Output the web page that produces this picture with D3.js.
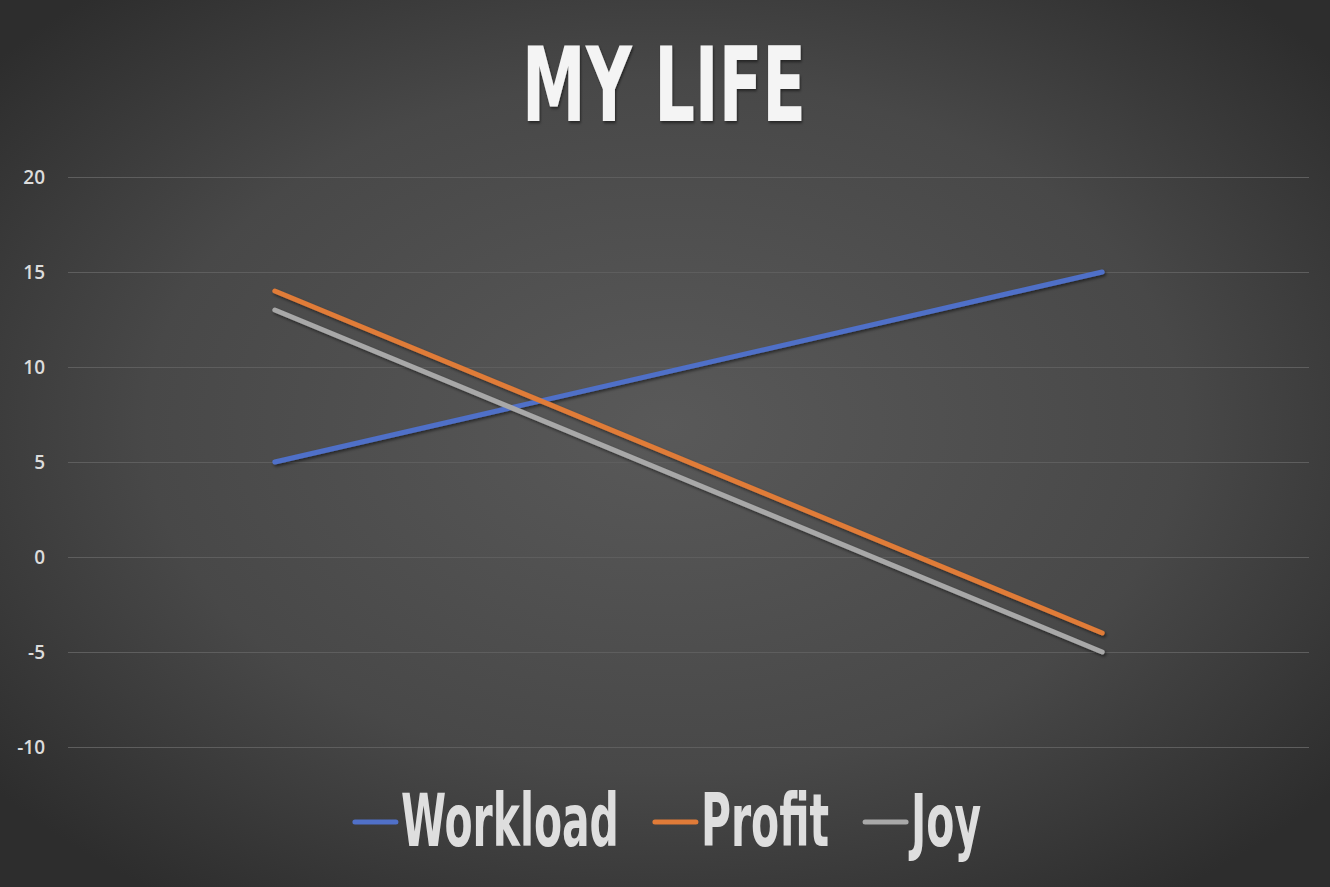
<!DOCTYPE html>
<html>
<head>
<meta charset="utf-8">
<script src="https://cdn.jsdelivr.net/npm/d3@7"></script>
<style>
  html, body { margin: 0; padding: 0; background: #2c2c2c; }
  svg { display: block; }
</style>
</head>
<body>
<svg id="chart"></svg>
<script>
// data
const categories = ['Start', 'End'];
const seriesNames = ['Workload', 'Profit', 'Joy'];
const workload = [5, 15];
const profit = [14, -4];
const joy = [13, -5];
const yTicks = [-10, -5, 0, 5, 10, 15, 20];
const seriesColors = ['#5070c8', '#e07b38', '#a8a8a8'];
const titleText = 'MY LIFE';

const width = 1330,
	height = 887,
	margin = {top: 177, right: 21, bottom: 140, left: 68};

const svg = d3.select('svg#chart')
	.attr('width', width)
	.attr('height', height);

// background
const defs = svg.append('defs');
const grad = defs.append('radialGradient')
	.attr('id', 'bg')
	.attr('cx', '50%').attr('cy', '48%')
	.attr('r', '65%');
grad.append('stop').attr('offset', '0%').attr('stop-color', '#595959');
grad.append('stop').attr('offset', '60%').attr('stop-color', '#484848');
grad.append('stop').attr('offset', '100%').attr('stop-color', '#2d2d2d');

const shadow = defs.append('filter')
	.attr('id', 'shadow')
	.attr('x', '-10%').attr('y', '-10%')
	.attr('width', '120%').attr('height', '130%');
shadow.append('feDropShadow')
	.attr('dx', 1.5).attr('dy', 2)
	.attr('stdDeviation', 1.5)
	.attr('flood-color', '#000')
	.attr('flood-opacity', 0.5);

svg.append('rect')
	.attr('width', width)
	.attr('height', height)
	.attr('fill', 'url(#bg)');

// scales
const x = d3.scalePoint()
	.domain(categories)
	.range([margin.left, width - margin.right])
	.padding(0.25);

const y = d3.scaleLinear()
	.domain([-10, 20])
	.range([height - margin.bottom, margin.top]);

// gridlines + y labels
const yAxis = svg.append('g')
	.attr('transform', `translate(${margin.left},0)`)
	.call(d3.axisLeft(y)
		.tickValues(yTicks)
		.tickFormat(d => String(d))
		.tickSize(-(width - margin.left - margin.right))
		.tickPadding(23));

yAxis.select('.domain').remove();
yAxis.selectAll('.tick line')
	.attr('stroke', '#5e5e5e')
	.attr('stroke-width', 1);
yAxis.selectAll('.tick text')
	.attr('fill', '#dcdcdc')
	.style('font-family', '"Open Sans", sans-serif')
	.style('font-weight', 600)
	.style('font-size', '19px');

// lines
const series = [workload, profit, joy].map((vals, i) => ({
	name: seriesNames[i],
	color: seriesColors[i],
	values: vals.map((v, j) => ({cat: categories[j], v: v}))
}));

const line = d3.line()
	.x(d => x(d.cat))
	.y(d => y(d.v));

svg.append('g')
	.attr('filter', 'url(#shadow)')
	.selectAll('path.series')
	.data(series)
	.join('path')
	.classed('series', true)
	.attr('d', d => line(d.values))
	.attr('fill', 'none')
	.attr('stroke', d => d.color)
	.attr('stroke-width', 5)
	.attr('stroke-linecap', 'round');

// title
const condensed = '"DejaVu Sans Condensed", "DejaVu Sans", sans-serif';

const title = svg.append('text')
	.attr('filter', 'url(#shadow)')
	.attr('text-anchor', 'middle')
	.attr('fill', '#f4f4f4')
	.style('font-family', condensed)
	.style('font-weight', 'bold')
	.style('font-size', '104px')
	.text(titleText);
const titleW = title.node().getComputedTextLength();
const titleK = 284 / titleW;
title.attr('transform', `translate(664,121) scale(${titleK},1)`);

// legend
const legendSize = 73,
	swatchW = 45,
	swatchGap = 3,
	itemGap = 34,
	legendY = 846;

const legend = svg.append('g');
const items = legend.selectAll('g.item')
	.data(series)
	.join('g')
	.classed('item', true);

items.append('text')
	.attr('fill', '#dedede')
	.style('font-family', condensed)
	.style('font-weight', 'bold')
	.style('font-size', legendSize + 'px')
	.text(d => d.name);

const rawW = items.select('text').nodes().map(n => n.getComputedTextLength());
const legendK = 218 / rawW[0];
const itemW = rawW.map(w => swatchW + swatchGap + w * legendK);
const totalW = d3.sum(itemW) + itemGap * (itemW.length - 1);
let cursor = 667 - totalW / 2;

items.each(function(d, i) {
	const g = d3.select(this);
	g.attr('transform', `translate(${cursor},${legendY})`);
	g.append('line')
		.attr('x1', 2).attr('x2', swatchW - 2)
		.attr('y1', -24).attr('y2', -24)
		.attr('stroke', d.color)
		.attr('stroke-width', 5)
		.attr('stroke-linecap', 'round');
	g.select('text')
		.attr('transform', `translate(${swatchW + swatchGap},0) scale(${legendK},1)`);
	cursor += itemW[i] + itemGap;
});
</script>
</body>
</html>
